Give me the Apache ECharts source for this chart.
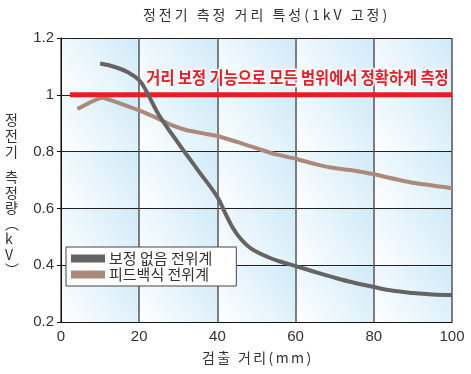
<!DOCTYPE html>
<html>
<head>
<meta charset="utf-8">
<style>
  html, body { margin: 0; padding: 0; background: #fff; }
  #chart { width: 471px; height: 374px; }
</style>
<script src="https://cdn.jsdelivr.net/npm/echarts@6/dist/echarts.min.js"></script>
</head>
<body>
<div id="chart"></div>
<script>
// Axis ticks
const xTicks = [0, 20, 40, 60, 80, 100];
const yTicks = [0.2, 0.4, 0.6, 0.8, 1.0, 1.2];

// Measured voltage (kV) against detection distance (mm)
const uncorrected = [
  [10, 1.11], [14, 1.097], [17, 1.08], [20, 1.052], [22, 1.008], [25, 0.93],
  [30, 0.83], [35, 0.735], [40, 0.64], [42, 0.583], [44, 0.53], [46, 0.492],
  [48, 0.465], [50, 0.447], [53, 0.428], [56, 0.413], [60, 0.397], [65, 0.376],
  [70, 0.356], [75, 0.338], [80, 0.323], [85, 0.31], [90, 0.302], [95, 0.297],
  [100, 0.295]
];
const feedback = [
  [4.2, 0.95], [10.5, 0.99], [15, 0.97], [20, 0.945], [25, 0.915], [28, 0.895],
  [32, 0.876], [36, 0.865], [40, 0.855], [45, 0.834], [50, 0.812], [55, 0.79],
  [60, 0.775], [65, 0.756], [69, 0.744], [74, 0.735], [80, 0.72], [90, 0.69],
  [100, 0.671]
];
const corrected = [[2.3, 1.0], [100, 1.0]];

const seriesNames = ['보정 없음 전위계', '피드백식 전위계'];
const titleText = '정전기 측정 거리 특성(1kV 고정)';
const xName = '검출 거리(mm)';
const calloutText = '거리 보정 기능으로 모든 범위에서 정확하게 측정';

const latin = '"Liberation Sans", Arial, sans-serif';
const kr = '"Noto Sans CJK KR", sans-serif';

// Letter-spaced text: one text element per character, centred on (cx, cy)
function spacedText(str, cx, cy, size, gap, color) {
  const ctx = document.createElement('canvas').getContext('2d');
  ctx.font = size + 'px ' + kr;
  const chars = Array.from(str);
  const widths = chars.map(c => ctx.measureText(c).width);
  const total = widths.reduce((a, b) => a + b, 0) + gap * (chars.length - 1);
  let x = cx - total / 2;
  const children = chars.map((c, i) => {
    const el = {
      type: 'text', x: x, y: cy,
      style: { text: c, fontFamily: kr, fontSize: size, fill: color, verticalAlign: 'middle' }
    };
    x += widths[i] + gap;
    return el;
  });
  return { type: 'group', z: 10, children: children };
}

// One shaded rectangle per grid cell (top-left corner first)
const cells = [];
for (let i = 0; i < xTicks.length - 1; i++) {
  for (let j = 0; j < yTicks.length - 1; j++) {
    cells.push([{ coord: [xTicks[i], yTicks[j + 1]] }, { coord: [xTicks[i + 1], yTicks[j]] }]);
  }
}

const chart = echarts.init(document.getElementById('chart'), null, { renderer: 'canvas' });
chart.setOption({
  animation: false,
  backgroundColor: '#ffffff',
  grid: { left: 61, right: 19, top: 38, bottom: 52 },
  legend: {
    data: seriesNames,
    orient: 'vertical',
    left: 66, top: 247,
    icon: 'rect',
    itemWidth: 34, itemHeight: 8, itemGap: 1,
    padding: [4, 24, 4, 5],
    backgroundColor: '#fff',
    borderColor: '#444', borderWidth: 1,
    textStyle: { fontFamily: kr, fontSize: 15, color: '#333', lineHeight: 15, padding: [0, 0, 0, -1] }
  },
  xAxis: {
    type: 'value', min: 0, max: 100, interval: 20, z: 3,
    axisLine: { lineStyle: { color: '#111', width: 1 } },
    axisTick: { show: false },
    axisLabel: { fontFamily: latin, fontSize: 15, color: '#333', margin: 7 },
    splitLine: { lineStyle: { color: '#555', width: 1.5 } }
  },
  yAxis: {
    type: 'value', min: 0.2, max: 1.2, interval: 0.2, z: 3,
    axisLine: { show: true, lineStyle: { color: '#111', width: 1 } },
    axisTick: { show: true, length: 4, lineStyle: { color: '#111' } },
    axisLabel: {
      fontFamily: latin, fontSize: 15, color: '#333', margin: 7,
      formatter: v => String(Math.round(v * 10) / 10)
    },
    splitLine: { lineStyle: { color: '#222', width: 1 } }
  },
  graphic: [
    spacedText(titleText, 265, 15, 14, 3, '#333'),
    spacedText(xName, 256.5, 358, 14, 2.4, '#333'),
    {
      type: 'text', left: 5, top: 112, z: 10,
      style: { text: '정\n전\n기', fontFamily: kr, fontSize: 14, lineHeight: 16, fill: '#333', align: 'center' }
    },
    {
      type: 'text', left: 5, top: 169, z: 10,
      style: { text: '측\n정\n량\n︵\nk\nV\n︶', fontFamily: kr, fontSize: 14, lineHeight: 15.5, fill: '#333', align: 'center' }
    },
    {
      type: 'text', x: 297.5, y: 78, z: 10, scaleX: 0.9,
      style: {
        text: calloutText, fontFamily: kr, fontSize: 17, fontWeight: 'bold',
        fill: '#ec1c24', stroke: '#fff', lineWidth: 3,
        align: 'center', verticalAlign: 'middle'
      }
    }
  ],
  series: [
    {
      type: 'line', data: [], z: 1, silent: true,
      markArea: {
        silent: true,
        itemStyle: {
          color: {
            type: 'linear', x: 0, y: 1, x2: 1, y2: 0,
            colorStops: [{ offset: 0, color: '#ffffff' }, { offset: 1, color: '#cfeaf8' }]
          }
        },
        data: cells
      }
    },
    {
      name: seriesNames[1], type: 'line', data: feedback, z: 5,
      showSymbol: false, smooth: 0.15,
      lineStyle: { color: '#ab8a7b', width: 4 }, itemStyle: { color: '#ab8a7b' }
    },
    {
      name: 'corrected', type: 'line', data: corrected, z: 6,
      showSymbol: false,
      lineStyle: { color: '#ec1c24', width: 5 }
    },
    {
      name: seriesNames[0], type: 'line', data: uncorrected, z: 7,
      showSymbol: false, smooth: 0.4,
      lineStyle: { color: '#646464', width: 4 }, itemStyle: { color: '#646464' }
    }
  ]
});
</script>
</body>
</html>
